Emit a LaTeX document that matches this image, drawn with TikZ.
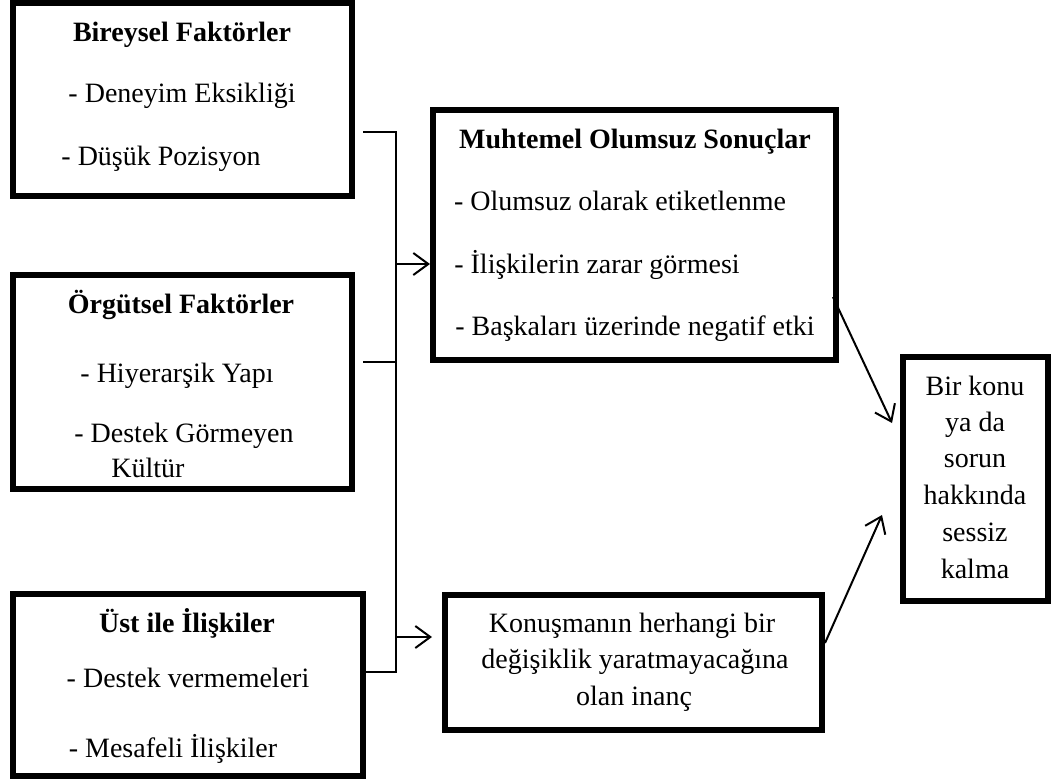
\documentclass[tikz,border=0pt]{standalone}
\usepackage{fontspec}
\setmainfont{Liberation Serif}
\usetikzlibrary{arrows.meta}
\begin{document}
\begin{tikzpicture}[x=1pt,y=-1pt,
  box/.style={draw, line width=6pt, minimum width=#1, inner sep=0pt},
  txt/.style={inner sep=0pt, anchor=base, font=\fontsize{28}{36}\selectfont},
  ttl/.style={txt, font=\fontsize{28}{36}\selectfont\bfseries},
  link/.style={line width=2pt},
  arr/.style={line width=2pt, -{Straight Barb[length=15pt,width=22pt,line width=2pt]}}]
\useasboundingbox (0,0) rectangle (1055,782);
% boxes
\node[box=339pt, minimum height=193pt] (b1) at (182.5,99.5) {};
\node[box=339pt, minimum height=214pt] (b2) at (182.5,382) {};
\node[box=350pt, minimum height=182pt] (b3) at (188,685) {};
\node[box=403pt, minimum height=250pt] (b4) at (634.5,235) {};
\node[box=377pt, minimum height=135pt] (b5) at (633.5,662.5) {};
\node[box=145pt, minimum height=244pt] (b6) at (975.5,479) {};
% box 1
\node[ttl] (t1a) at (182,41) {Bireysel Faktörler};
\node[txt] (t1b) at (182,102) {- Deneyim Eksikliği};
\node[txt] (t1c) at (161,165) {- Düşük Pozisyon};
% box 2
\node[ttl] (t2a) at (181,313) {Örgütsel Faktörler};
\node[txt] (t2b) at (177,382) {- Hiyerarşik Yapı};
\node[txt] (t2c) at (184,442) {- Destek Görmeyen};
\node[txt] (t2d) at (148,477) {Kültür};
% box 3
\node[ttl] (t3a) at (187,632) {Üst ile İlişkiler};
\node[txt] (t3b) at (188,687) {- Destek vermemeleri};
\node[txt] (t3c) at (173,757) {- Mesafeli İlişkiler};
% box 4
\node[ttl] (t4a) at (635,148) {Muhtemel Olumsuz Sonuçlar};
\node[txt] (t4b) at (620,210) {- Olumsuz olarak etiketlenme};
\node[txt] (t4c) at (597,273) {- İlişkilerin zarar görmesi};
\node[txt] (t4d) at (635,335) {- Başkaları üzerinde negatif etki};
% box 5
\node[txt] (t5a) at (632,632) {Konuşmanın herhangi bir};
\node[txt] (t5b) at (635,668) {değişiklik yaratmayacağına};
\node[txt] (t5c) at (634,705) {olan inanç};
% box 6
\node[txt] (t6a) at (975,395) {Bir konu};
\node[txt] (t6b) at (975,431) {ya da};
\node[txt] (t6c) at (975,467) {sorun};
\node[txt] (t6d) at (975,504) {hakkında};
\node[txt] (t6e) at (975,541) {sessiz};
\node[txt] (t6f) at (975,578) {kalma};
% bracket
\coordinate (s1) at (363,132);
\coordinate (s2) at (363,362);
\coordinate (s3) at (366,672);
\coordinate (v1) at (396,132);
\coordinate (v2) at (396,362);
\coordinate (v3) at (396,672);
\coordinate (a1) at (396,264);
\coordinate (a2) at (396,637);
\draw[link] (s1) -- (v1) -- (v3) -- (s3);
\draw[link] (s2) -- (v2);
\draw[arr] (a1) -- (a1 -| b4.west);
\draw[arr, shorten >=10pt] (a2) -- (a2 -| b5.west);
% arrows to box 6
\coordinate (e1) at (833,297);
\coordinate (f1) at (892,423);
\coordinate (e2) at (825,643);
\coordinate (f2) at (882,515);
\draw[arr] (e1) -- (f1);
\draw[arr] (e2) -- (f2);
\end{tikzpicture}
\end{document}
